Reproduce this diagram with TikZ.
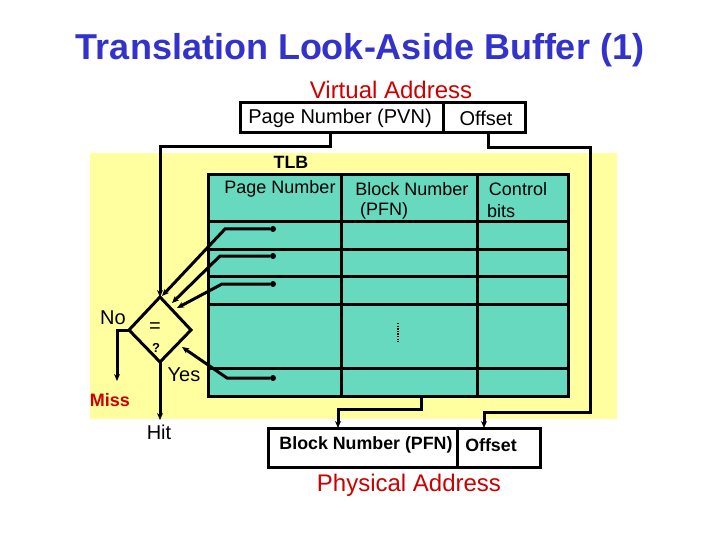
\documentclass[tikz,border=0pt]{standalone}
\usepackage{fontspec}
\setmainfont{Liberation Sans}
\usetikzlibrary{arrows.meta}
\definecolor{bgy}{HTML}{FFFFA0}
\definecolor{teal2}{HTML}{66D9BF}
\definecolor{ttl}{HTML}{3333CC}
\definecolor{rd}{HTML}{CC0000}
\begin{document}
\begin{tikzpicture}[x=1pt,y=-1pt,
  ln/.style={line width=3pt},
  ar/.style={ln,-{Stealth[length=7pt,width=6pt]}},
  lbl/.style={inner sep=0pt,font=\fontsize{20}{23}\selectfont},
  hd/.style={inner sep=0pt,font=\fontsize{18}{21}\selectfont},
  bl/.style={inner sep=0pt,font=\bfseries\fontsize{17.8}{21}\selectfont},
  dotc/.style={circle,fill,inner sep=0pt,minimum size=6pt}]
\useasboundingbox (0,0) rectangle (720,540);
\fill[bgy] (90,153) rectangle (617,419);
\node[inner sep=0pt,font=\bfseries\fontsize{36}{40}\selectfont,text=ttl] (title) at (360,50) {Translation Look-Aside Buffer (1)};
\node[lbl,text=rd,font=\fontsize{24}{27}\selectfont] (va) at (391,90) {Virtual Address};
% VA box
\draw[ln] (240,103) rectangle (525,133);
\draw[ln] (443,103) -- (443,133);
\node[lbl] (pvn) at (340,118) {Page Number (PVN)};
\node[lbl] (off) at (486,118) {Offset};
% table
\fill[teal2] (208,175) rectangle (568,396);
\draw[ln] (208,175) rectangle (568,396);
\foreach \y in {222,249,276,304,368} \draw[ln] (208,\y) -- (568,\y);
\draw[ln] (341,175) -- (341,396);
\draw[ln] (477,175) -- (477,396);
\node[bl] (tlb) at (291,162) {TLB};
\node[hd] (h1) at (280,189) {Page Number};
\node[hd] (h2) at (412,189) {Block Number};
\node[hd] (h2b) at (384,211) {(PFN)};
\node[hd] (h3) at (518,189) {Control};
\node[hd] (h3b) at (501,211) {bits};
\draw[line width=2.5pt,dash pattern=on 1.3pt off 1.3pt] (398,323) -- (398,342);
% diamond
\coordinate (dt) at (160,297); \coordinate (dl) at (129,330);
\coordinate (dr) at (191,330); \coordinate (db) at (160,362);
\draw[ln] (dt) -- (dr) -- (db) -- (dl) -- cycle;
\node[lbl] (eq) at (155,328) {=};
\node[lbl,font=\bfseries\fontsize{13}{15}\selectfont] (q) at (156,348) {?};
% PVN to diamond
\draw[ar] (330,133) -- (330,147) -- (160,147) -- (dt);
% entries
\node[dotc] (e1) at (273,229) {};
\node[dotc] (e2) at (273,256) {};
\node[dotc] (e3) at (273,284) {};
\node[dotc] (e4) at (273,378) {};
\draw[ar] (e1) -- (225,229) -- (162,296);
\draw[ar] (e2) -- (220,256) -- (172,303);
\draw[ar] (e3) -- (222,284) -- (177,308);
\draw[ar] (e4) -- (227,378) -- (182,347);
% No / Miss
\node[lbl] (no) at (113,318) {No};
\coordinate (mc) at (117,381);
\draw[ar] (dl) -- (117,330) -- (mc);
\node[lbl,font=\bfseries\fontsize{18}{21}\selectfont,text=rd] (miss) at (110,400) {Miss};
% Yes / Hit
\node[lbl] (yes) at (184,375) {Yes};
\coordinate (hc) at (160,420);
\draw[ar] (db) -- (hc);
\node[lbl] (hit) at (159,432) {Hit};
% PA box
\draw[ln] (268,428) rectangle (540,467);
\draw[ln] (457,428) -- (457,467);
\node[bl] (pfn) at (366,445) {Block Number (PFN)};
\node[bl] (poff) at (491,445) {Offset};
\node[lbl,text=rd,font=\fontsize{24}{27}\selectfont] (pa) at (409,485) {Physical Address};
% outputs
\draw[ar] (421,396) -- (421,409) -- (338,409) -- (338,428);
\draw[ar] (488,133) -- (488,148) -- (590,148) -- (590,412) -- (484,412) -- (484,428);
\end{tikzpicture}
\end{document}
